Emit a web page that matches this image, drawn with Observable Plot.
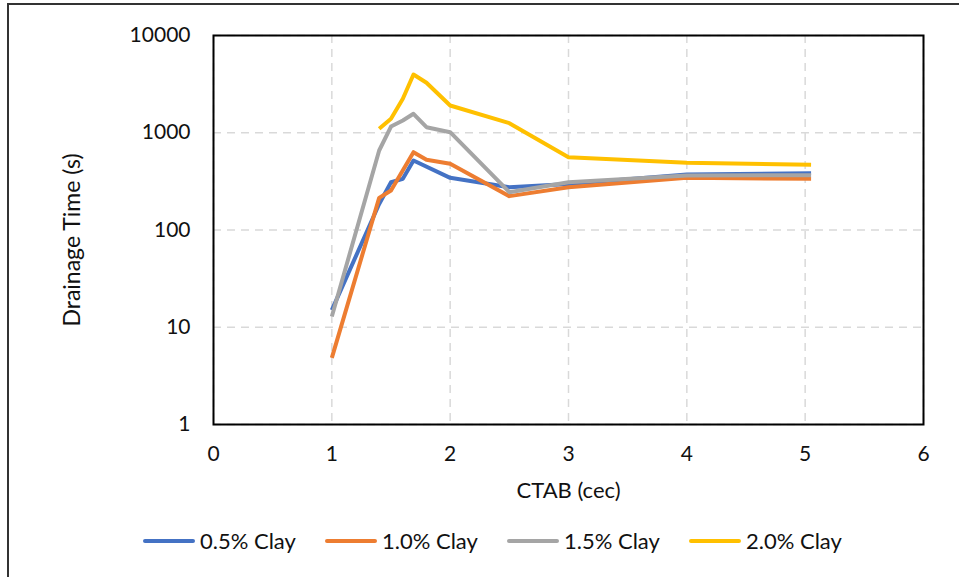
<!DOCTYPE html>
<html>
<head>
<meta charset="utf-8">
<script src="https://cdn.jsdelivr.net/npm/d3@7"></script>
<script src="https://cdn.jsdelivr.net/npm/@observablehq/plot@0.6"></script>
<style>
  html, body { margin: 0; padding: 0; background: #fff; }
  body { width: 959px; height: 577px; position: relative; overflow: hidden; font-family: Lato, "Liberation Sans", sans-serif; }
  #border { position: absolute; left: 7px; top: 3px; width: 1000px; height: 700px; border-top: 2px solid #333; border-left: 2px solid #333; }
  #chart { position: absolute; left: 0; top: 0; }
  #legend { position: absolute; left: 143px; top: 527px; display: flex; align-items: center; font-size: 22px; color: #111; }
  #legend .item { display: flex; align-items: center; width: 182px; }
  #legend .sw { width: 52px; height: 4px; border-radius: 2px; margin-right: 5px; }
</style>
</head>
<body>
<div id="border"></div>
<div id="chart"></div>
<div id="legend"></div>
<script>
// CTAB dosage (cec) and drainage time (s) for each clay content
const seriesNames = ["0.5% Clay", "1.0% Clay", "1.5% Clay", "2.0% Clay"];
const seriesColors = ["#4472C4", "#ED7D31", "#A5A5A5", "#FFC000"];

const ctab05 = [1, 1.4, 1.5, 1.6, 1.69, 2, 2.5, 3, 4, 5.05];
const time05 = [15, 185, 310, 336, 519, 344, 275, 298, 372, 384];

const ctab10 = [1, 1.4, 1.5, 1.69, 1.8, 2, 2.5, 3, 4, 5.05];
const time10 = [4.85, 214, 255, 631, 527, 480, 223, 275, 344, 336];

const ctab15 = [1, 1.4, 1.5, 1.6, 1.69, 1.8, 2, 2.5, 3, 4, 5.05];
const time15 = [12.9, 657, 1159, 1337, 1566, 1140, 1013, 245, 310, 363, 366];

const ctab20 = [1.4, 1.5, 1.6, 1.69, 1.8, 2, 2.5, 3, 4, 5.05];
const time20 = [1098, 1391, 2233, 3973, 3265, 1906, 1254, 561, 491, 468];

const xTicks = [0, 1, 2, 3, 4, 5, 6];
const yTicks = [1, 10, 100, 1000, 10000];

const xs = [ctab05, ctab10, ctab15, ctab20];
const ys = [time05, time10, time15, time20];
const rows = [];
seriesNames.forEach((name, i) => {
  xs[i].forEach((x, j) => rows.push({series: name, ctab: x, time: ys[i][j]}));
});

const W = 959, H = 515;
const fontFamily = "Lato, 'Liberation Sans', sans-serif";

const chart = Plot.plot({
  width: W,
  height: H,
  marginLeft: 213,
  marginRight: 36,
  marginTop: 35,
  marginBottom: H - 424,
  style: { fontFamily, fontSize: "21px", color: "#111", background: "transparent", overflow: "visible" },
  x: { domain: [0, 6], ticks: xTicks },
  y: { type: "log", domain: [1, 10000], ticks: yTicks },
  color: { domain: seriesNames, range: seriesColors },
  marks: [
    Plot.gridX(xTicks, { stroke: "#d9d9d9", strokeOpacity: 1, strokeWidth: 1.5, strokeDasharray: "8,6" }),
    Plot.gridY(yTicks, { stroke: "#d9d9d9", strokeOpacity: 1, strokeWidth: 1.5, strokeDasharray: "8,6" }),
    Plot.axisX(xTicks, { tickSize: 0, tickPadding: 22, label: null, tickFormat: d => String(d) }),
    Plot.axisY(yTicks, { tickSize: 0, tickPadding: 23, label: null, tickFormat: d => String(d) }),
    Plot.line(rows, { x: "ctab", y: "time", z: "series", stroke: "series", strokeWidth: 4, strokeLinejoin: "round", strokeLinecap: "butt" }),
    Plot.frame({ stroke: "#000", strokeWidth: 2 }),
    Plot.text(["CTAB (cec)"], { frameAnchor: "bottom", dy: 73, fontSize: 22, fill: "#111", textAnchor: "middle" }),
    Plot.text(["Drainage Time (s)"], { frameAnchor: "left", dx: -141, dy: 10, rotate: -90, fontSize: 23, fill: "#111", textAnchor: "middle" })
  ]
});
document.getElementById("chart").appendChild(chart);

// Legend row beneath the plot
const legend = d3.select("#legend");
seriesNames.forEach((name, i) => {
  const item = legend.append("div").attr("class", "item");
  item.append("div").attr("class", "sw").style("background", seriesColors[i]);
  item.append("span").text(name);
});
</script>
</body>
</html>
